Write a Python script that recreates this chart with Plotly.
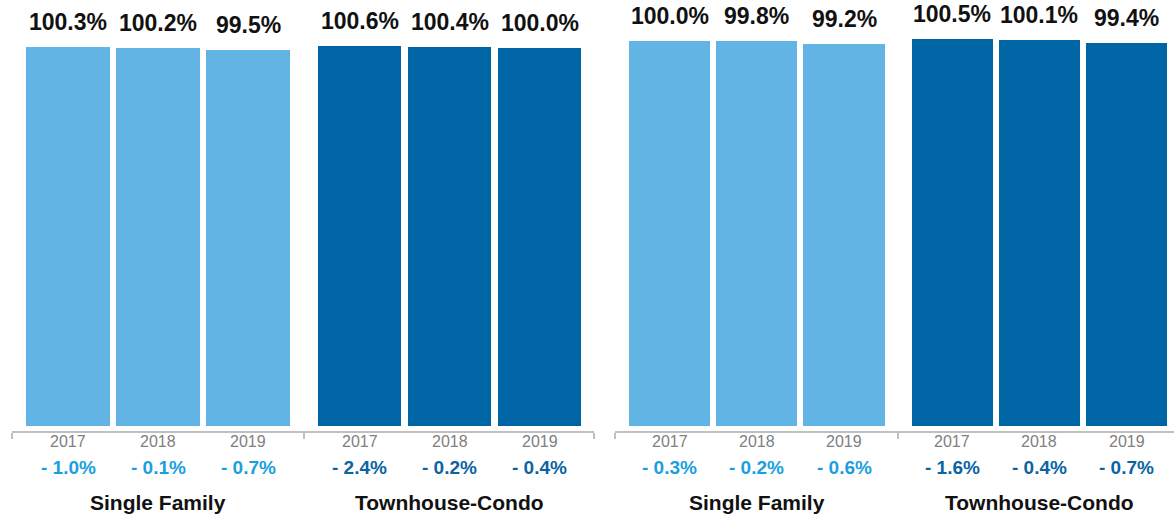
import plotly.graph_objects as go

# ---- data ----
groups = ["Single Family", "Townhouse-Condo"]
years = ["2017", "2018", "2019"]

left_sf = [100.3, 100.2, 99.5]
left_tc = [100.6, 100.4, 100.0]
left_sf_chg = [-1.0, -0.1, -0.7]
left_tc_chg = [-2.4, -0.2, -0.4]

right_sf = [100.0, 99.8, 99.2]
right_tc = [100.5, 100.1, 99.4]
right_sf_chg = [-0.3, -0.2, -0.6]
right_tc_chg = [-1.6, -0.4, -0.7]

# ---- styles ----
bar_colors = ["#62b4e4", "#0065a4"]
chg_colors = ["#1a9fde", "#0a64a3"]
FONT = "Liberation Sans, Arial, Helvetica, sans-serif"
GROUP_OFFSET = 3.24
BAR_W = 0.93
W, H = 1174, 516

panels = [
    dict(xa="x", ya="y", vals=[left_sf, left_tc], chg=[left_sf_chg, left_tc_chg],
         dom=[12 / W, 594 / W], xr=[-0.6222, 5.844], yr=[-1.324, 112.8], right_tick=True),
    dict(xa="x2", ya="y2", vals=[right_sf, right_tc], chg=[right_sf_chg, right_tc_chg],
         dom=[615 / W, 1.0], xr=[-0.6246, 5.782], yr=[-1.298, 110.56], right_tick=False),
]

fig = go.Figure()
annotations = []


def fmt_chg(v):
    return ("- " if v < 0 else "+ ") + f"{abs(v):.1f}%"


def ypix(p):
    return (H - p) / H


for pi, p in enumerate(panels):
    for gi, g in enumerate(groups):
        xs = [gi * GROUP_OFFSET + i for i in range(len(years))]
        vals = p["vals"][gi]
        fig.add_trace(go.Bar(
            x=xs, y=vals, width=BAR_W, marker=dict(color=bar_colors[gi], line=dict(width=0)),
            xaxis=p["xa"], yaxis=p["ya"], showlegend=False, hoverinfo="skip"))
        for i, (x, v) in enumerate(zip(xs, vals)):
            annotations.append(dict(
                x=x, y=v, xref=p["xa"], yref=p["ya"], text=f"<b>{v:.1f}%</b>",
                showarrow=False, yanchor="bottom", yshift=11, borderpad=0,
                font=dict(family=FONT, size=23, color="#111111")))
            annotations.append(dict(
                x=x, y=ypix(441), xref=p["xa"], yref="paper", text=years[i],
                showarrow=False, yanchor="middle",
                font=dict(family=FONT, size=16, color="#808080")))
            annotations.append(dict(
                x=x, y=ypix(467), xref=p["xa"], yref="paper",
                text=f"<b>{fmt_chg(p['chg'][gi][i])}</b>",
                showarrow=False, yanchor="middle",
                font=dict(family=FONT, size=19, color=chg_colors[gi])))
        annotations.append(dict(
            x=gi * GROUP_OFFSET + 1, y=ypix(502), xref=p["xa"], yref="paper",
            text=f"<b>{g}</b>", showarrow=False, yanchor="middle",
            font=dict(family=FONT, size=21, color="#111111")))

layout = dict(
    width=W, height=H, margin=dict(l=0, r=0, t=0, b=0),
    paper_bgcolor="white", plot_bgcolor="white", bargap=0,
    annotations=annotations, showlegend=False,
)

for pi, p in enumerate(panels):
    suffix = "" if pi == 0 else "2"
    lo, hi = p["xr"]
    mid = (2 + GROUP_OFFSET) / 2
    tv = [lo + 0.004, mid]
    if p["right_tick"]:
        tv.append(hi - 0.004)
    layout["xaxis" + suffix] = dict(
        domain=p["dom"], range=p["xr"], anchor="y" + suffix,
        showline=True, linecolor="#c0c0c0", linewidth=2,
        ticks="outside", ticklen=6, tickwidth=2, tickcolor="#c0c0c0",
        tickvals=tv, showticklabels=False, showgrid=False, zeroline=False, fixedrange=True)
    layout["yaxis" + suffix] = dict(
        domain=[ypix(431), 1.0], range=p["yr"], anchor="x" + suffix,
        visible=False, showgrid=False, zeroline=False, fixedrange=True)

fig.update_layout(**layout)
fig.write_html(
    "out.html",
    config={"displayModeBar": False},
    post_script="document.body.style.margin='0';document.body.style.overflow='hidden';",
)
